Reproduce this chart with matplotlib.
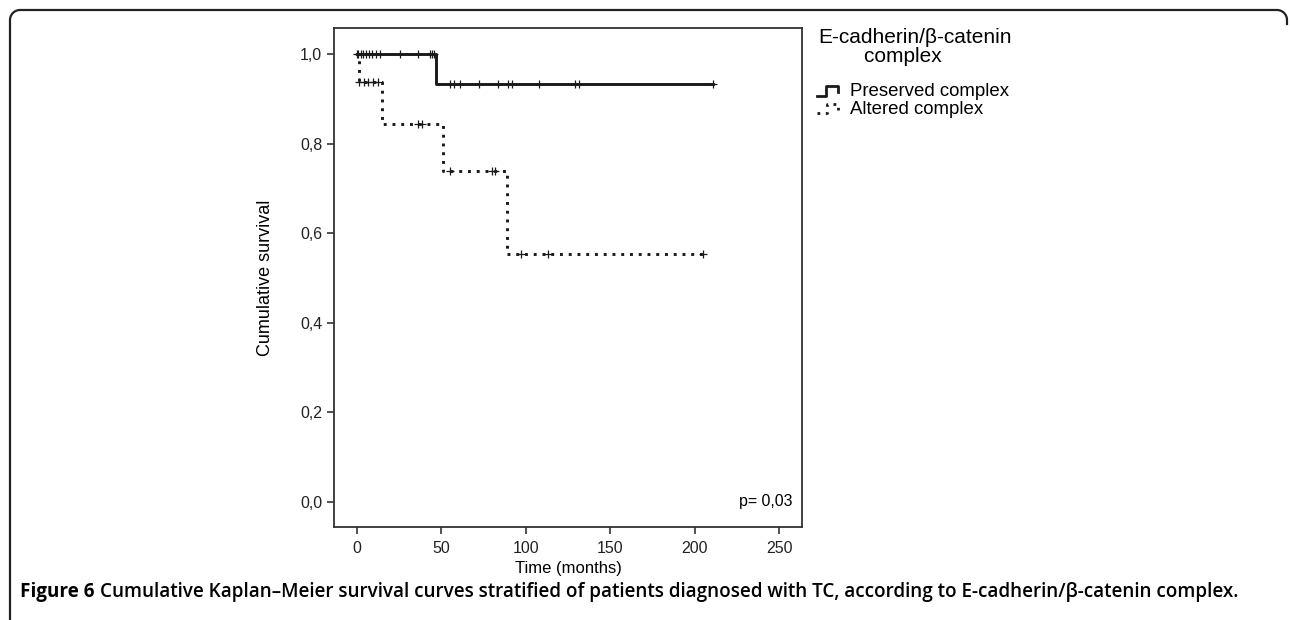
import numpy as np
import matplotlib
matplotlib.use("Agg")
import matplotlib.pyplot as plt
from matplotlib.lines import Line2D

plt.rcParams["font.family"] = ["Liberation Sans", "DejaVu Sans"]

# Kaplan-Meier steps (event times, survival after each step)
preserved_times = [0, 47, 211]
preserved_surv = [1.0, 0.9333, 0.9333]
preserved_censored = [0.6, 2.4, 3.5, 5.3, 7.1, 8.9, 11.2, 13.6, 25.5, 36.1, 43.2,
                      44.4, 45.5, 55, 57.5, 61, 72, 83.5, 89.5, 92, 108, 129, 131.5, 211]

altered_times = [0, 1, 15, 51, 89, 205]
altered_surv = [1.0, 0.9375, 0.8438, 0.7383, 0.5537, 0.5537]
altered_censored = [0.3, 1.5, 4, 6.5, 9.5, 12.5, 36, 38.5, 55, 80, 82, 97, 113, 205]

x_ticks = [0, 50, 100, 150, 200, 250]
y_ticks = [0.0, 0.2, 0.4, 0.6, 0.8, 1.0]
y_ticklabels = ["0,0", "0,2", "0,4", "0,6", "0,8", "1,0"]


def surv_at(times, surv, t):
    idx = np.searchsorted(times, t, side="right") - 1
    return np.asarray(surv)[idx]


fig = plt.figure(figsize=(12.9, 6.2), dpi=100)
ax = fig.add_axes([0.2589, 0.15, 0.3628, 0.8048])

ax.step(preserved_times, preserved_surv, where="post", color="#1a1a1a", lw=2.1)
ax.plot(preserved_censored, surv_at(preserved_times, preserved_surv, preserved_censored),
        ls="none", marker="+", ms=6, mew=0.9, color="#1a1a1a")

ax.step(altered_times, altered_surv, where="post", color="#1a1a1a", lw=2.1,
        ls=(0, (1, 2)), dash_capstyle="butt")
ax.plot(altered_censored, surv_at(altered_times, altered_surv, altered_censored),
        ls="none", marker="+", ms=6, mew=0.9, color="#1a1a1a")

ax.set_xlim(-13.6, 263.6)
ax.set_ylim(-0.056, 1.058)
ax.set_xticks(x_ticks)
ax.set_yticks(y_ticks)
ax.set_yticklabels(y_ticklabels)
ax.tick_params(direction="out", length=5, width=1.1, labelsize=11.5, colors="#222222")
ax.tick_params(axis="x", pad=5)
for s in ax.spines.values():
    s.set_linewidth(1.3)
    s.set_color("#333333")
ax.set_xlabel("Time (months)", fontsize=12, labelpad=4)
ax.set_ylabel("Cumulative survival", fontsize=13, labelpad=19)
ax.text(258, 0.0, "p= 0,03", ha="right", va="center", fontsize=11.4)

# legend (drawn in pixel space)
W, H = 1290, 620


def fx(px):
    return px / W


def fy(py):
    return 1 - py / H


fig.text(fx(818), fy(47), "E-cadherin/β-catenin\n        complex", fontsize=15,
         va="center", ha="left", linespacing=0.95)
fig.add_artist(Line2D([fx(817), fx(826), fx(826), fx(838), fx(838)],
                      [fy(96), fy(96), fy(86), fy(86), fy(92)],
                      color="#1a1a1a", lw=2.0))
fig.add_artist(Line2D([fx(817), fx(827), fx(827), fx(838), fx(838)],
                      [fy(113), fy(113), fy(104), fy(104), fy(110)],
                      color="#1a1a1a", lw=2.0, ls=(0, (1, 2)), dash_capstyle="butt"))
fig.text(fx(850), fy(91), "Preserved complex", fontsize=13.4, va="center", ha="left")
fig.text(fx(850), fy(109), "Altered complex", fontsize=13.4, va="center", ha="left")

# outer frame: left side, top line and rounded corners
r = 10
a = np.linspace(np.pi, np.pi / 2, 12)
left_arc_x = 10 + r + r * np.cos(a)
left_arc_y = 10 + r - r * np.sin(a)
b = np.linspace(np.pi / 2, 0, 12)
right_arc_x = 1277 + r * np.cos(b)
right_arc_y = 10 + r - r * np.sin(b)
px = np.concatenate([[10], left_arc_x, right_arc_x, [1287]])
py = np.concatenate([[620], left_arc_y, right_arc_y, [24]])
fig.add_artist(Line2D(fx(px), fy(py), color="#222222", lw=1.6))

cap_kw = dict(family=["Open Sans", "DejaVu Sans"], fontsize=13.6, va="center")
t1 = fig.text(fx(20), fy(592), "Figure 6", fontweight="bold", **cap_kw)
fig.canvas.draw()
bb = t1.get_window_extent()
fig.text(bb.x1 / W + fx(5), fy(592),
         "Cumulative Kaplan–Meier survival curves stratified of patients diagnosed with TC, "
         "according to E-cadherin/β-catenin complex.", fontweight="semibold", **cap_kw)

fig.savefig("out.png", dpi=100)
